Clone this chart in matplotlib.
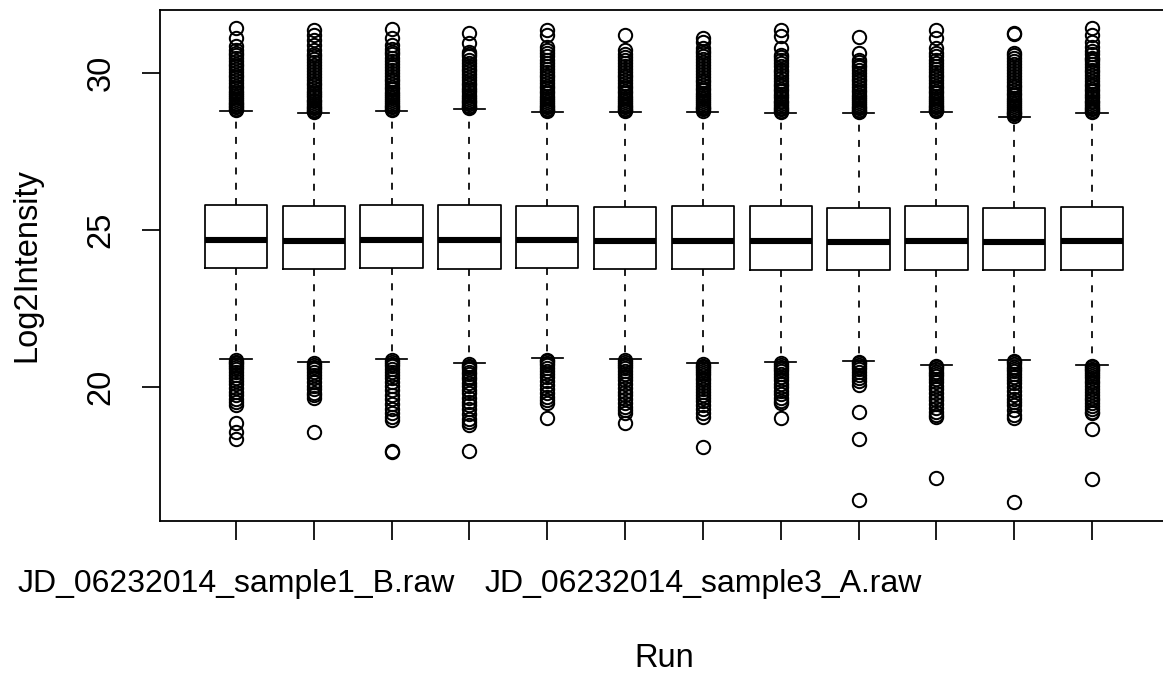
import matplotlib
matplotlib.use("Agg")
import matplotlib.pyplot as plt

plt.rcParams['font.family'] = ['Liberation Sans', 'DejaVu Sans']

# Per-run summary of log2 intensities
positions = list(range(1, 13))
run_labels = ["JD_06232014_sample1_B.raw", "", "", "", "", "",
              "JD_06232014_sample3_A.raw", "", "", "", "", ""]

q1 = [23.78, 23.75, 23.78, 23.75, 23.77, 23.75, 23.76, 23.73, 23.72, 23.71, 23.73, 23.71]
med = [24.68, 24.65, 24.68, 24.68, 24.68, 24.64, 24.64, 24.64, 24.62, 24.64, 24.61, 24.66]
q3 = [25.80, 25.76, 25.80, 25.80, 25.77, 25.72, 25.78, 25.75, 25.71, 25.75, 25.70, 25.72]
whis_hi = [28.80, 28.74, 28.80, 28.86, 28.76, 28.76, 28.78, 28.74, 28.72, 28.76, 28.62, 28.74]
whis_lo = [20.88, 20.80, 20.88, 20.76, 20.90, 20.88, 20.76, 20.80, 20.83, 20.70, 20.86, 20.70]

out_hi = [
    [28.83, 28.87, 28.91, 28.96, 29.01, 29.06, 29.12, 29.18, 29.24, 29.31, 29.38, 29.45, 29.53, 29.61,
     29.69, 29.78, 29.87, 29.95, 30.04, 30.13, 30.22, 30.3, 30.4, 30.5, 30.58, 30.66, 30.75, 30.86,
     31.12, 31.44],
    [28.77, 28.8, 28.84, 28.88, 28.93, 28.98, 29.04, 29.1, 29.16, 29.23, 29.3, 29.37, 29.45, 29.53,
     29.62, 29.7, 29.79, 29.88, 29.97, 30.06, 30.16, 30.26, 30.36, 30.46, 30.55, 30.63, 30.75, 30.9,
     31.06, 31.22, 31.38],
    [28.83, 28.87, 28.92, 28.97, 29.02, 29.08, 29.14, 29.2, 29.27, 29.34, 29.41, 29.49, 29.57, 29.65,
     29.74, 29.83, 29.92, 30.01, 30.1, 30.2, 30.3, 30.4, 30.5, 30.6, 30.68, 30.78, 30.9, 31.12, 31.41],
    [28.89, 28.93, 28.97, 29.02, 29.07, 29.13, 29.19, 29.25, 29.32, 29.39, 29.46, 29.54, 29.62, 29.7,
     29.79, 29.88, 29.97, 30.06, 30.15, 30.24, 30.34, 30.44, 30.54, 30.62, 30.69, 30.97, 31.28],
    [28.79, 28.83, 28.87, 28.92, 28.97, 29.03, 29.09, 29.15, 29.22, 29.29, 29.36, 29.44, 29.52, 29.6,
     29.69, 29.78, 29.87, 29.96, 30.05, 30.14, 30.24, 30.34, 30.44, 30.54, 30.64, 30.74, 30.85, 31.22,
     31.38],
    [28.79, 28.83, 28.87, 28.92, 28.97, 29.03, 29.09, 29.15, 29.22, 29.29, 29.36, 29.44, 29.52, 29.6,
     29.69, 29.78, 29.87, 29.96, 30.05, 30.14, 30.24, 30.34, 30.43, 30.52, 30.6, 30.75, 31.22],
    [28.81, 28.85, 28.89, 28.94, 28.99, 29.05, 29.11, 29.17, 29.24, 29.31, 29.38, 29.46, 29.54, 29.62,
     29.71, 29.8, 29.89, 29.98, 30.07, 30.16, 30.26, 30.36, 30.46, 30.56, 30.65, 30.72, 30.8, 31.01,
     31.14],
    [28.77, 28.81, 28.85, 28.9, 28.95, 29.01, 29.07, 29.13, 29.2, 29.27, 29.34, 29.42, 29.5, 29.58,
     29.67, 29.76, 29.85, 29.94, 30.03, 30.12, 30.22, 30.32, 30.42, 30.51, 30.59, 30.8, 31.19, 31.38],
    [28.75, 28.79, 28.83, 28.88, 28.93, 28.99, 29.05, 29.11, 29.18, 29.25, 29.32, 29.4, 29.48, 29.56,
     29.65, 29.74, 29.83, 29.92, 30.01, 30.1, 30.19, 30.27, 30.35, 30.43, 30.64, 31.17],
    [28.79, 28.83, 28.87, 28.92, 28.97, 29.03, 29.09, 29.15, 29.22, 29.29, 29.36, 29.44, 29.52, 29.6,
     29.69, 29.78, 29.87, 29.96, 30.05, 30.14, 30.24, 30.34, 30.44, 30.54, 30.65, 30.8, 31.12, 31.38],
    [28.65, 28.69, 28.73, 28.78, 28.83, 28.89, 28.95, 29.01, 29.08, 29.15, 29.22, 29.3, 29.38, 29.46,
     29.55, 29.64, 29.73, 29.82, 29.91, 30.0, 30.1, 30.2, 30.3, 30.4, 30.5, 30.58, 30.64, 31.25, 31.28],
    [28.77, 28.81, 28.85, 28.9, 28.95, 29.01, 29.07, 29.13, 29.2, 29.27, 29.34, 29.42, 29.5, 29.58,
     29.67, 29.76, 29.85, 29.94, 30.03, 30.12, 30.21, 30.3, 30.38, 30.45, 30.5, 30.62, 30.72, 30.85,
     31.01, 31.22, 31.46],
]

out_lo = [
    [20.84, 20.79, 20.74, 20.68, 20.62, 20.55, 20.47, 20.38, 20.28, 20.18, 20.07, 19.96, 19.84, 19.72,
     19.6, 19.5, 19.41, 18.83, 18.56, 18.32],
    [20.76, 20.7, 20.63, 20.56, 20.48, 20.38, 20.27, 20.15, 20.03, 19.92, 19.81, 19.72, 19.64, 18.56],
    [20.84, 20.78, 20.72, 20.65, 20.57, 20.48, 20.38, 20.27, 20.15, 20.02, 19.88, 19.74, 19.6, 19.45,
     19.3, 19.15, 19.02, 18.94, 17.93, 17.9],
    [20.72, 20.67, 20.61, 20.55, 20.48, 20.4, 20.32, 20.23, 20.13, 20.02, 19.9, 19.78, 19.65, 19.52,
     19.4, 19.27, 19.13, 18.98, 18.86, 18.78, 17.95],
    [20.86, 20.81, 20.75, 20.68, 20.6, 20.51, 20.41, 20.3, 20.18, 20.05, 19.92, 19.8, 19.68, 19.57,
     19.48, 18.99],
    [20.84, 20.79, 20.73, 20.66, 20.58, 20.5, 20.41, 20.31, 20.2, 20.08, 19.96, 19.84, 19.72, 19.6,
     19.48, 19.36, 19.25, 19.16, 18.85],
    [20.72, 20.67, 20.62, 20.56, 20.5, 20.43, 20.36, 20.28, 20.2, 20.11, 20.02, 19.93, 19.84, 19.74,
     19.64, 19.53, 19.42, 19.3, 19.17, 19.04, 18.08],
    [20.76, 20.7, 20.64, 20.57, 20.49, 20.4, 20.3, 20.2, 20.09, 19.98, 19.86, 19.75, 19.64, 19.55,
     19.48, 19.01],
    [20.79, 20.74, 20.68, 20.62, 20.55, 20.47, 20.38, 20.28, 20.17, 20.05, 19.18, 18.32, 16.38],
    [20.66, 20.61, 20.55, 20.48, 20.41, 20.33, 20.24, 20.14, 20.03, 19.92, 19.8, 19.68, 19.56, 19.44,
     19.32, 19.2, 19.1, 19.04, 17.07],
    [20.82, 20.77, 20.71, 20.64, 20.57, 20.49, 20.4, 20.31, 20.21, 20.1, 19.98, 19.86, 19.74, 19.62,
     19.5, 19.41, 19.25, 19.1, 19.01, 16.33],
    [20.66, 20.62, 20.57, 20.52, 20.46, 20.4, 20.33, 20.26, 20.18, 20.1, 20.01, 19.92, 19.83, 19.74,
     19.65, 19.56, 19.47, 19.38, 19.29, 19.2, 19.16, 18.64, 17.04],
]

stats = []
for i in range(len(positions)):
    stats.append(dict(med=med[i], q1=q1[i], q3=q3[i],
                      whislo=whis_lo[i], whishi=whis_hi[i],
                      fliers=out_lo[i] + out_hi[i]))

fig = plt.figure(figsize=(11.63, 6.75), dpi=100)
ax = fig.add_axes([159.7 / 1163, 1 - 520.7 / 675, 1008.6 / 1163, 510.7 / 675])

lw = 1.25
ax.bxp(stats, positions=positions, widths=0.8, capwidths=0.4, showfliers=True,
       boxprops=dict(lw=lw, color='black'),
       medianprops=dict(lw=4.4, color='black', solid_capstyle='butt'),
       whiskerprops=dict(lw=lw, color='black', linestyle=(0, (4.0, 4.8))),
       capprops=dict(lw=lw, color='black'),
       flierprops=dict(marker='o', markerfacecolor='none', markeredgecolor='black',
                       markersize=9.6, markeredgewidth=1.45, linestyle='none'))

ax.set_xlim(0.02, 12.98)
ax.set_ylim(15.72, 32.02)

ax.set_xticks(positions)
ax.set_xticklabels(run_labels, fontsize=23)
ax.set_yticks([20, 25, 30])
ax.set_yticklabels(['20', '25', '30'], fontsize=23.5, rotation=90, va='center')
ax.tick_params(axis='x', length=14, width=lw, pad=21)
ax.tick_params(axis='y', length=13, width=lw, pad=18)

for sp in ax.spines.values():
    sp.set_linewidth(1.3)

ax.set_xlabel('Run', fontsize=23.5, va='baseline')
ax.xaxis.set_label_coords(0.5, -0.2865)
ax.set_ylabel('Log2Intensity', fontsize=23.5, va='center')
ax.yaxis.set_label_coords(-0.1316, 0.5)

fig.savefig('out.png', dpi=100)
